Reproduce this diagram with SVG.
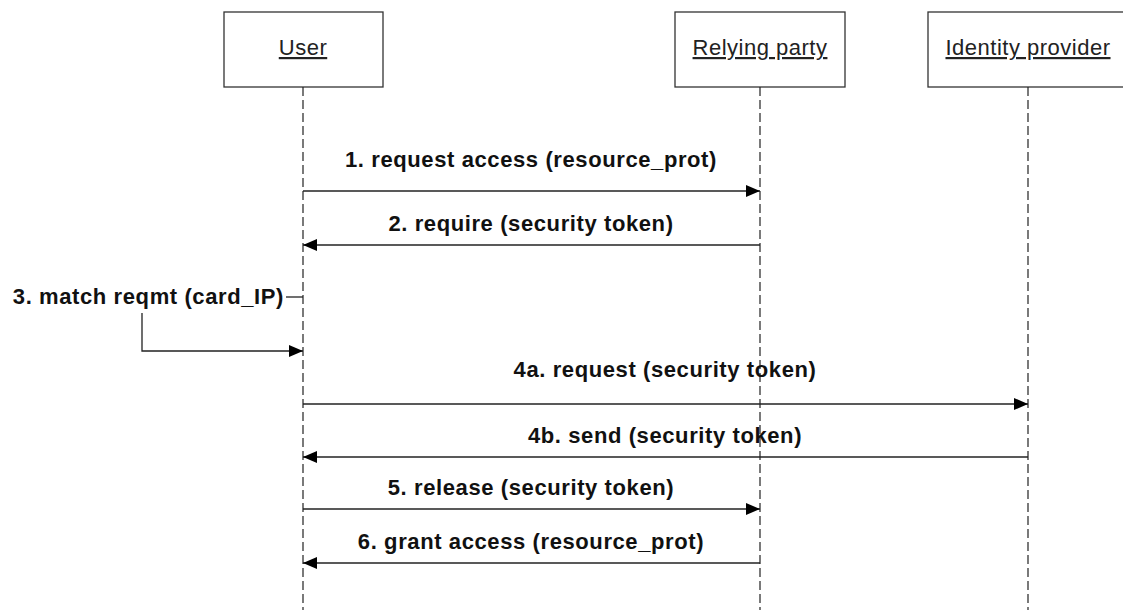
<svg xmlns="http://www.w3.org/2000/svg" width="1123" height="610" viewBox="0 0 1123 610">
  <style>
    .box { fill: #ffffff; stroke: #333333; stroke-width: 1.3; }
    .name { font-family: "Liberation Sans", Arial, sans-serif; font-size: 22px; letter-spacing: 0.5px; fill: #222222; text-anchor: middle; text-decoration: underline; }
    .life { stroke: #222222; stroke-width: 1.2; stroke-dasharray: 9 4; fill: none; }
    .msg { stroke: #222222; stroke-width: 1.3; fill: none; }
    .label { font-family: "Liberation Sans", Arial, sans-serif; font-size: 22px; letter-spacing: 0.6px; font-weight: bold; fill: #111111; text-anchor: middle; }
  </style>
  <defs>
    <marker id="arrow" viewBox="0 0 14 12" refX="14" refY="6" markerWidth="14" markerHeight="12" markerUnits="userSpaceOnUse" orient="auto">
      <path d="M0,0 L14,6 L0,12 z" fill="#000000"/>
    </marker>
  </defs>
  <rect width="1123" height="610" fill="#ffffff"/>

  <!-- participants -->
  <g id="user">
    <rect class="box" x="224" y="12" width="159" height="75"/>
    <text class="name" x="303" y="55">User</text>
    <line class="life" x1="303" y1="87" x2="303" y2="610"/>
  </g>
  <g id="relying-party">
    <rect class="box" x="675" y="12" width="170" height="75"/>
    <text class="name" x="760" y="55">Relying party</text>
    <line class="life" x1="760" y1="87" x2="760" y2="610"/>
  </g>
  <g id="identity-provider">
    <rect class="box" x="928" y="12" width="205" height="75"/>
    <text class="name" x="1028" y="55">Identity provider</text>
    <line class="life" x1="1028" y1="87" x2="1028" y2="610"/>
  </g>

  <!-- messages -->
  <g id="connectors">
    <line class="msg" x1="303" y1="191" x2="760" y2="191" marker-end="url(#arrow)"/>
    <line class="msg" x1="760" y1="245" x2="303" y2="245" marker-end="url(#arrow)"/>
    <polyline class="msg" points="286,297 303,297"/>
    <polyline class="msg" points="142,313 142,351 303,351" marker-end="url(#arrow)"/>
    <line class="msg" x1="303" y1="404" x2="1028" y2="404" marker-end="url(#arrow)"/>
    <line class="msg" x1="1028" y1="457" x2="303" y2="457" marker-end="url(#arrow)"/>
    <line class="msg" x1="303" y1="509" x2="760" y2="509" marker-end="url(#arrow)"/>
    <line class="msg" x1="760" y1="563" x2="303" y2="563" marker-end="url(#arrow)"/>
  </g>

  <g id="labels">
    <text class="label" x="531" y="167">1. request access (resource_prot)</text>
    <text class="label" x="531" y="231">2. require (security token)</text>
    <text class="label" x="284" y="304" style="text-anchor:end">3. match reqmt (card_IP)</text>
    <text class="label" x="665" y="377">4a. request (security token)</text>
    <text class="label" x="665" y="443">4b. send (security token)</text>
    <text class="label" x="531" y="495">5. release (security token)</text>
    <text class="label" x="531" y="549">6. grant access (resource_prot)</text>
  </g>
</svg>
